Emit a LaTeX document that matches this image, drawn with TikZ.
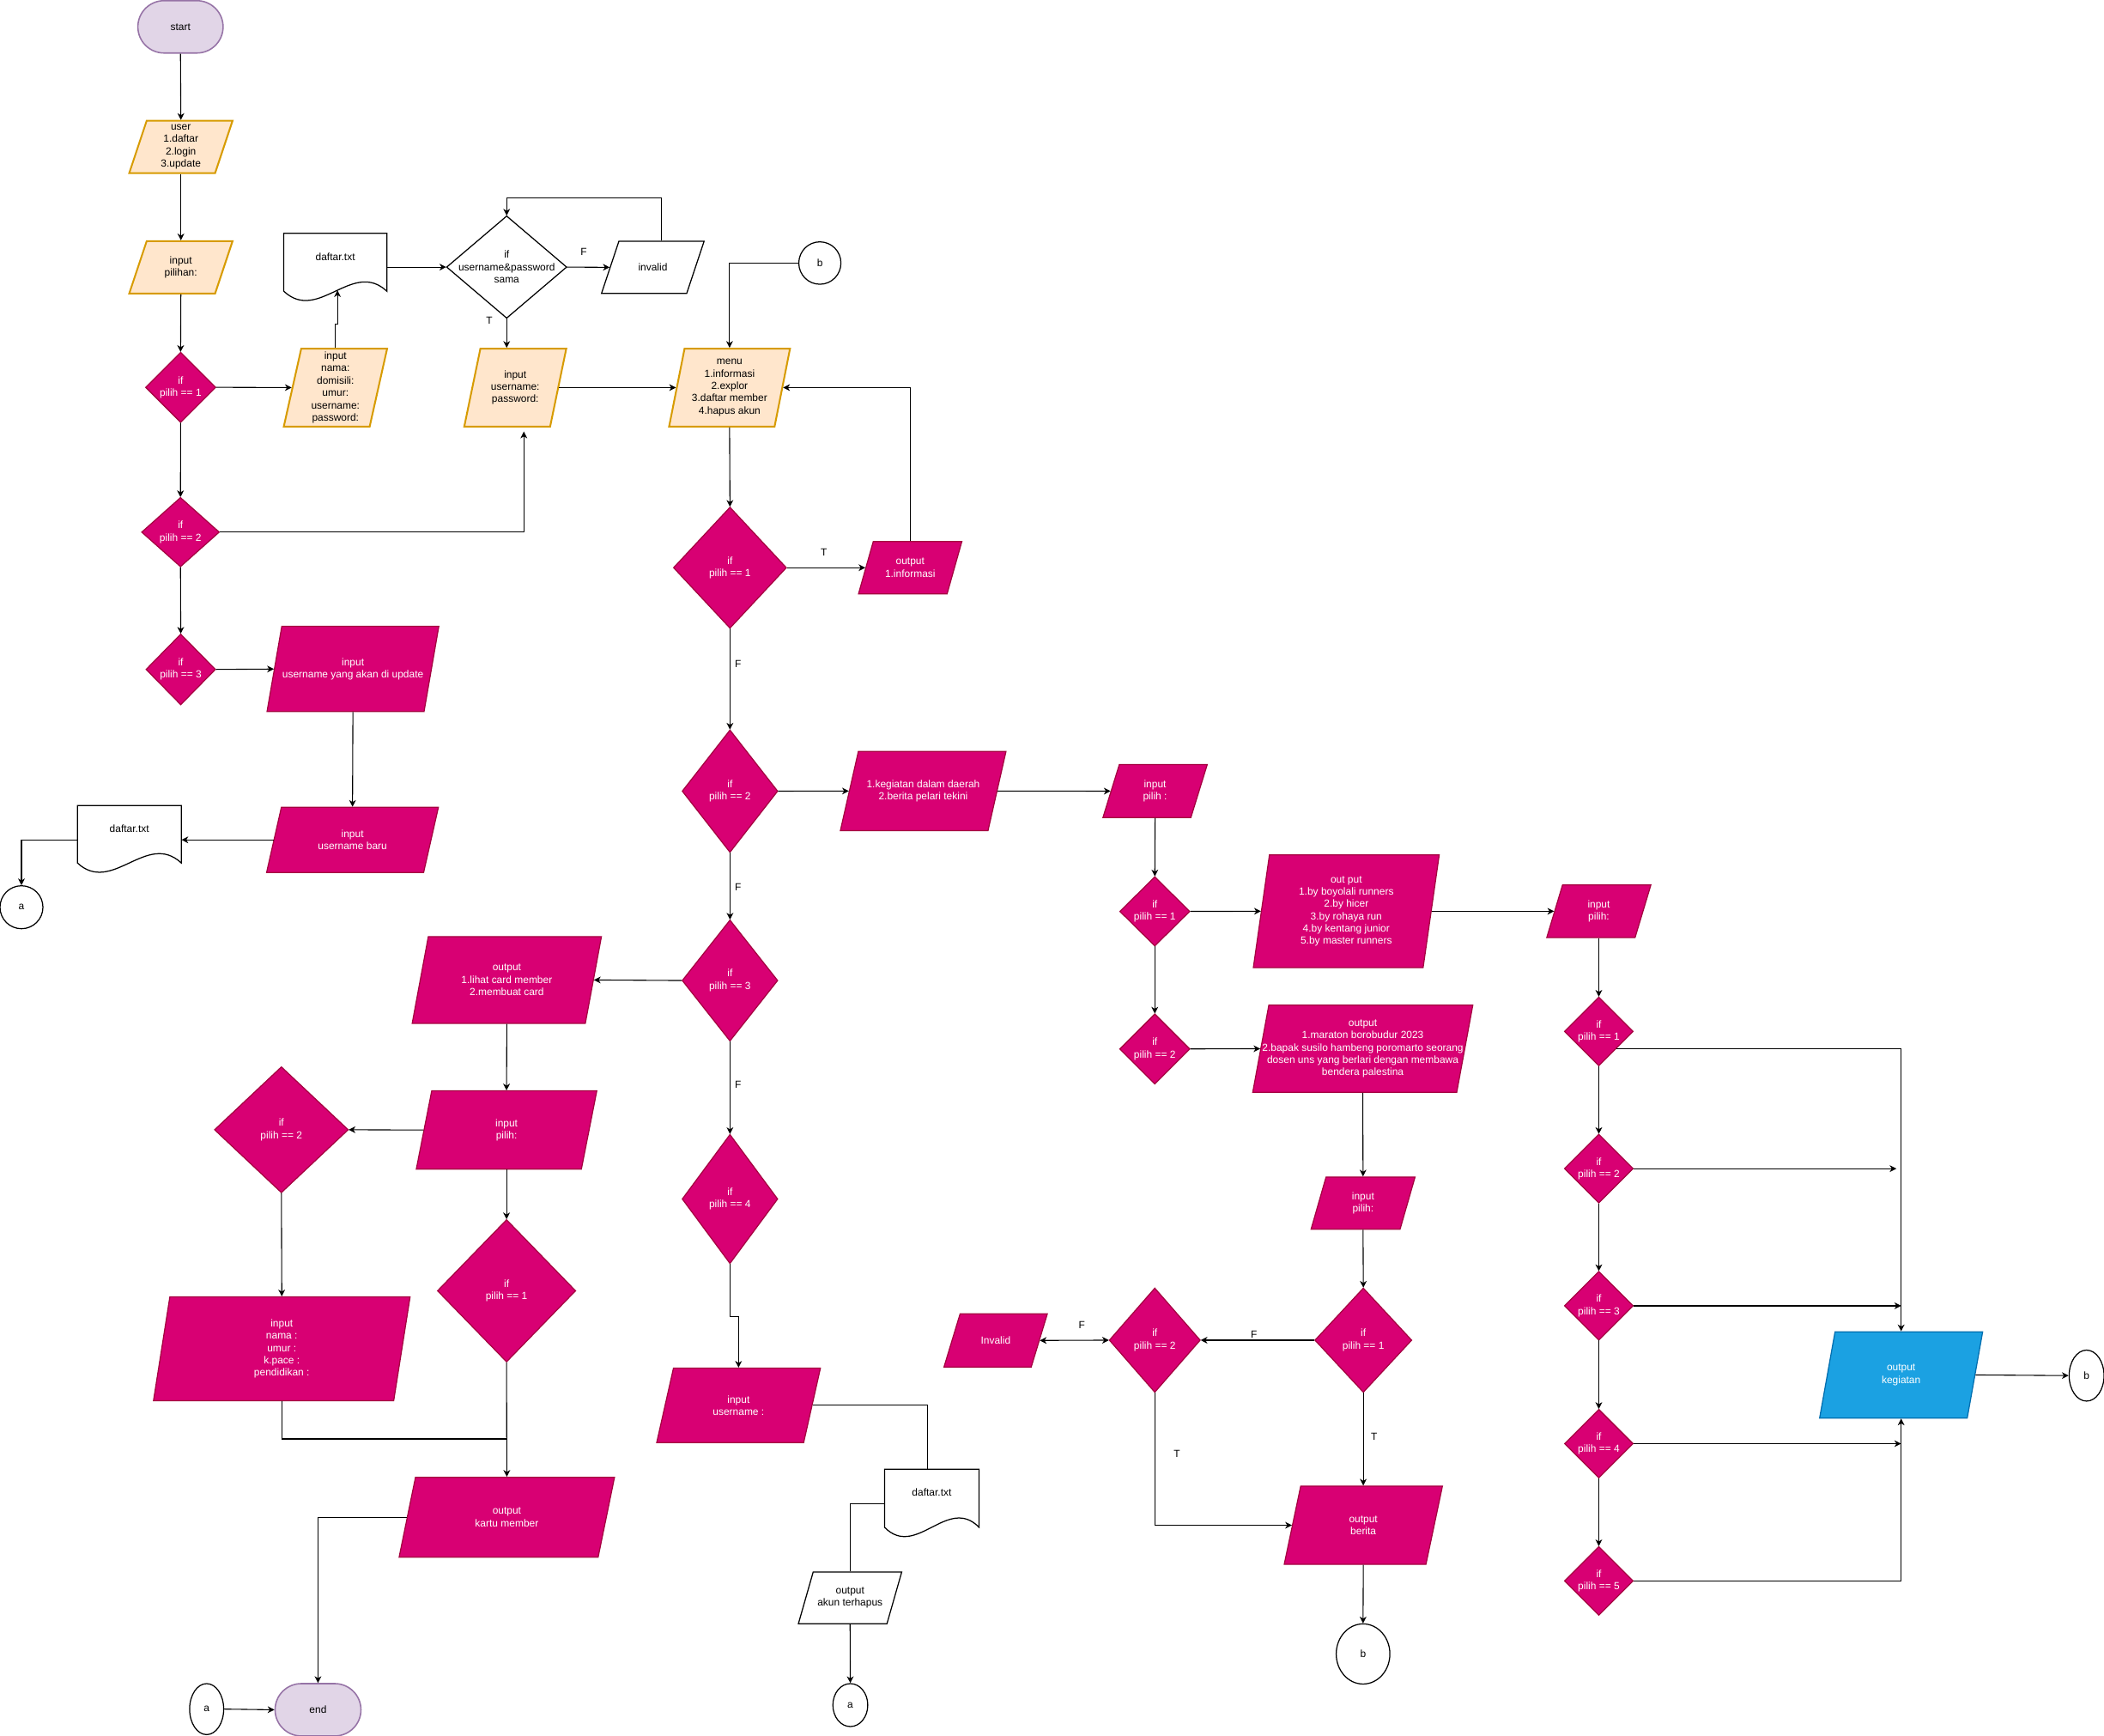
\documentclass[tikz,border=0pt]{standalone}
\usepackage{fontspec}
\setmainfont{Liberation Sans}
\usetikzlibrary{arrows.meta,calc,shapes.geometric}

\definecolor{orfill}{HTML}{FFE6CC}
\definecolor{orline}{HTML}{D79B00}
\definecolor{pufill}{HTML}{E1D5E7}
\definecolor{puline}{HTML}{9673A6}
\definecolor{mgfill}{HTML}{D80073}
\definecolor{mgline}{HTML}{A50040}
\definecolor{blfill}{HTML}{1BA1E2}
\definecolor{blline}{HTML}{006EAF}

\tikzset{
  lbl/.style={inner sep=0pt, align=center, font=\fontsize{7.66}{9.2}\selectfont, text=black},
  orng/.style={fill=orfill, draw=orline, line width=1.3pt},
  mg/.style={fill=mgfill, draw=mgline, line width=0.8pt, text=white},
  bl/.style={fill=blfill, draw=blline, line width=0.8pt, text=white},
  wh/.style={fill=white, draw=black, line width=0.8pt},
  term/.style={lbl, rectangle, rounded corners=19.5pt, fill=pufill, draw=puline,
               line width=1pt, minimum width=63.5, minimum height=39},
  conn/.style={wh, ellipse, lbl},
  cn/.style={draw=black, line width=0.7pt},
  arr/.style={cn, -{Stealth[length=5pt,width=5pt,inset=1.5pt]}},
  darr/.style={cn, {Stealth[length=5pt,width=5pt,inset=1.5pt]}-{Stealth[length=5pt,width=5pt,inset=1.5pt]}},
}

% parallelogram: style, name, cx, cy, mid width, height, slant, text
\newcommand\pgram[8]{%
  \path[#1] ({#3-#5/2+#7/2},{#4-#6/2}) -- ({#3+#5/2+#7/2},{#4-#6/2})
    -- ({#3+#5/2-#7/2},{#4+#6/2}) -- ({#3-#5/2-#7/2},{#4+#6/2}) -- cycle;
  \node[lbl, #1, draw=none, fill=none, minimum width=#5, minimum height=#6] (#2) at (#3,#4) {#8};
}
% decision: style, name, cx, cy, width, height, text
\newcommand\dmd[7]{%
  \path[#1] (#3,{#4-#6/2}) -- ({#3+#5/2},#4) -- (#3,{#4+#6/2}) -- ({#3-#5/2},#4) -- cycle;
  \node[lbl, #1, draw=none, fill=none, minimum width=#5, minimum height=#6] (#2) at (#3,#4) {#7};
}
% stored file: name, left, right, top, wave base
\newcommand\fdoc[5]{%
  \path[wh] (#2,#4) -- (#3,#4) -- (#3,#5)
    .. controls ({#3-(#3-#2)/3},{#5-24}) and ({#2+(#3-#2)/3},{#5+24}) .. (#2,#5) -- cycle;
  \node[lbl, minimum width={#3-#2}, minimum height={#5-#4}] (#1) at ({(#2+#3)/2},{(#4+#5)/2}) {};
  \node[lbl] (#1t) at ({(#2+#3)/2},{#4+17.5}) {daftar.txt};
}

\begin{document}
\begin{tikzpicture}[x=1pt, y=-1pt]
\fill[white] (0,0) rectangle (1568,1293.5);
\useasboundingbox (0,0) rectangle (1568,1293.5);

% ---------- registration / login ----------
\node[term] (start) at (134.5,20) {start};
\pgram{orng}{user}{134.8}{109.5}{64}{39}{13}{user\\1.daftar\\2.login\\3.update}
\pgram{orng}{pilihan}{134.8}{199.2}{64}{39}{13}{input\\pilihan:}
\dmd{mg}{d1}{134.6}{288.6}{52}{52}{if\\pilih == 1}
\dmd{mg}{d2}{134.5}{396.5}{57.7}{51.4}{if\\pilih == 2}
\dmd{mg}{d3}{134.7}{498.8}{51.6}{52.5}{if\\pilih == 3}
\pgram{orng}{nama}{250}{288.8}{64}{58}{13}{input\\nama:\\domisili:\\umur:\\username:\\password:}
\fdoc{ddoc}{211.5}{288.3}{173.8}{217}
\dmd{wh}{upd}{377.6}{199}{89.3}{76}{if\\username\&password\\sama}
\pgram{wh}{invalid}{486.5}{199.2}{63.5}{39}{13}{invalid}
\pgram{orng}{unp}{384}{288.8}{64}{58}{12}{input\\username:\\password:}
\pgram{orng}{menu}{543.7}{288.8}{78.6}{58}{11.5}{menu\\1.informasi\\2.explor\\3.daftar member\\4.hapus akun}
\node[conn, minimum width=31.4, minimum height=31.6] (b1) at (611,196) {b};
\pgram{mg}{upd3}{263}{498.5}{117}{63.5}{11}{input\\username yang akan di update}
\pgram{mg}{baru}{262.7}{625.8}{117}{48.5}{11}{input\\username baru}
\fdoc{ddoc2}{57.7}{135.1}{600.2}{643}
\node[conn, minimum width=32, minimum height=32] (a1) at (16,676) {a};

% ---------- main menu ----------
\dmd{mg}{m1}{544}{423}{84}{90}{if\\pilih == 1}
\pgram{mg}{info}{678.3}{423}{66}{39}{11}{output\\1.informasi}
\dmd{mg}{m2}{544}{589.5}{71}{91}{if\\pilih == 2}
\dmd{mg}{m3}{544}{730.6}{71}{90}{if\\pilih == 3}
\dmd{mg}{m4}{544}{893.4}{71}{96}{if\\pilih == 4}

% ---------- explore ----------
\pgram{mg}{keg}{688}{589.4}{110}{59}{13.4}{1.kegiatan dalam daerah\\2.berita pelari tekini}
\pgram{mg}{pil3}{860.8}{589.5}{65.5}{39.5}{12.2}{input\\pilih :}
\dmd{mg}{r1}{860.6}{679.1}{52}{51.4}{if\\pilih == 1}
\dmd{mg}{r2}{860.6}{781.6}{52}{52}{if\\pilih == 2}
\pgram{mg}{runs}{1003.3}{679}{126.5}{84}{12}{out put\\1.by boyolali runners\\2.by hicer\\3.by rohaya run\\4.by kentang junior\\5.by master runners}
\pgram{mg}{mar}{1015.6}{781.4}{152}{65}{12}{output\\1.maraton borobudur 2023\\2.bapak susilo hambeng poromarto seorang\\dosen uns yang berlari dengan membawa\\bendera palestina}
\pgram{mg}{pil5}{1015.8}{896.5}{66.3}{39}{11.2}{input\\pilih:}
\dmd{mg}{s1}{1016}{998.6}{72}{77.5}{if\\pilih == 1}
\dmd{mg}{s2}{860.6}{998.6}{67.6}{77.5}{if\\pilih == 2}
\pgram{mg}{inv2}{742}{998.8}{65}{39.6}{12}{Invalid}
\pgram{mg}{ber}{1016}{1136.5}{105.6}{58.3}{12.3}{output\\berita}
\node[conn, minimum width=40, minimum height=44.8] (b2) at (1015.8,1232.4) {b};

\pgram{mg}{pil4}{1191.5}{679}{65.8}{39.3}{11.8}{input\\pilih:}
\dmd{mg}{c1}{1191.5}{768.5}{51}{51}{if\\pilih == 1}
\dmd{mg}{c2}{1191.5}{870.8}{51}{51}{if\\pilih == 2}
\dmd{mg}{c3}{1191.5}{973}{51}{51}{if\\pilih == 3}
\dmd{mg}{c4}{1191.5}{1075.7}{51}{51}{if\\pilih == 4}
\dmd{mg}{c5}{1191.5}{1178}{51}{51}{if\\pilih == 5}
\pgram{bl}{kout}{1416.8}{1024.5}{110}{64.3}{11.5}{output\\kegiatan}
\node[conn, minimum width=26, minimum height=38] (b3) at (1555,1025) {b};

% ---------- member card ----------
\pgram{mg}{card}{377.7}{730.2}{129}{64.6}{12}{output\\1.lihat card member\\2.membuat card}
\pgram{mg}{lpil}{377.5}{842}{123}{58.3}{11.5}{input\\pilih:}
\dmd{mg}{ld2}{209.7}{841.8}{99.5}{93.6}{if\\pilih == 2}
\dmd{mg}{ld1}{377.5}{961.8}{102.8}{105.8}{if\\pilih == 1}
\pgram{mg}{nmu}{210}{1005}{179}{77.3}{12.2}{input\\nama :\\umur :\\k.pace :\\pendidikan :}
\pgram{mg}{kartu}{377.7}{1130.5}{148.3}{59.5}{12.2}{output\\kartu member}
\node[term, minimum width=64] (end) at (237,1274) {end};
\node[conn, minimum width=25.4, minimum height=38] (a3) at (154,1273.5) {a};

% ---------- delete account ----------
\pgram{mg}{uname}{550.4}{1047.2}{109.5}{55.5}{12.5}{input\\username :}
\fdoc{ddoc3}{659.2}{729.6}{1094.8}{1138}
\pgram{wh}{akun}{633.5}{1190.6}{66}{38.5}{11}{output\\akun terhapus}
\node[conn, minimum width=26, minimum height=32] (a2) at (633.7,1270.5) {a};

% ---------- connectors ----------
\draw[arr] (start.south) -- (user.north);
\draw[arr] (user.south) -- (pilihan.north);
\draw[arr] (pilihan.south) -- (d1.north);
\draw[arr] (d1.east) -- (nama.west);
\draw[arr] (d1.south) -- (d2.north);
\draw[arr] (d2.south) -- (d3.north);
\draw[arr] (d3.east) -- (upd3.west);
\coordinate (lgin) at (390.4,321.6);
\draw[arr] (d2.east) -| (lgin);
\coordinate (dwave) at (251.5,216.3);
\draw[arr] (nama.north) -- ++(0,-17.5) -| (dwave);
\draw[arr] (ddoc.east |- upd.west) -- (upd.west);
\draw[arr] (upd.east) -- (invalid.west);
\node[lbl] (lF1) at (435,187.7) {F};
\draw[arr] ([xshift=6.3pt]invalid.north) -- ++(0,-31.9) -| (upd.north);
\draw[arr] (upd.south) -- (upd.south |- unp.north);
\node[lbl] (lT1) at (364.6,238.9) {T};
\draw[arr] (unp.east) -- (menu.west);
\draw[arr] (b1.west) -| (menu.north);
\draw[arr] (menu.south) -- (m1.north);
\draw[arr] (m1.east) -- (info.west);
\node[lbl] (lT2) at (614,411.6) {T};
\draw[arr] (info.north) |- (menu.east);
\draw[arr] (m1.south) -- (m2.north);
\node[lbl] (lF2) at (550,494.5) {F};
\draw[arr] (m2.south) -- (m3.north);
\node[lbl] (lF3) at (550,661) {F};
\draw[arr] (m3.south) -- (m4.north);
\node[lbl] (lF4) at (550,808.5) {F};
\draw[arr] (upd3.south) -- (baru.north);
\draw[arr] (baru.west) -- (ddoc2.east |- baru.west);
\draw[arr] (ddoc2.west |- baru.west) -| (a1.north);

\draw[arr] (m2.east) -- (keg.west);
\draw[arr] (keg.east) -- (pil3.west);
\draw[arr] (pil3.south) -- (r1.north);
\draw[arr] (r1.east) -- (runs.west);
\draw[arr] (r1.south) -- (r2.north);
\draw[arr] (r2.east) -- (mar.west);
\draw[arr] (runs.east) -- (pil4.west);
\draw[arr] (mar.south) -- (pil5.north);
\draw[arr] (pil5.south) -- (s1.north);
\draw[arr] (s1.west) -- (s2.east);
\node[lbl] (lF5) at (934.5,994.1) {F};
\draw[darr] (s2.west) -- (inv2.east);
\node[lbl] (lF6) at (806.3,987.6) {F};
\draw[arr] (s1.south) -- (ber.north);
\node[lbl] (lT3) at (1024,1070.4) {T};
\draw[arr] (s2.south) |- (ber.west);
\node[lbl] (lT4) at (877.1,1083.5) {T};
\draw[arr] (ber.south) -- (b2.north);

\draw[arr] (pil4.south) -- (c1.north);
\draw[arr] (c1.south) -- (c2.north);
\draw[arr] (c2.south) -- (c3.north);
\draw[arr] (c3.south) -- (c4.north);
\draw[arr] (c4.south) -- (c5.north);
\draw[arr] ($(c1.east)!.5!(c1.south)$) -| (kout.north);
\coordinate (k2) at (1413.3,870.8);
\draw[arr] (c2.east) -- (k2);
\draw[arr] (c3.east) -- (c3.east -| kout.north);
\draw[arr] (c4.east) -- (c4.east -| kout.north);
\draw[arr] (c5.east) -| (kout.south);
\draw[arr] (kout.east) -- (b3.west);

\draw[arr] (m3.west) -- (card.east);
\draw[arr] (card.south) -- (lpil.north);
\draw[arr] (lpil.west) -- (ld2.east);
\draw[arr] (lpil.south) -- (ld1.north);
\draw[arr] (ld2.south) -- (nmu.north);
\coordinate (kjoin) at (377.5,1072.2);
\draw[cn] (nmu.south) |- (kjoin);
\draw[arr] (ld1.south) -- (kartu.north);
\draw[arr] (kartu.west) -| (end.north);
\draw[arr] (a3.east) -- (end.west);

\draw[arr] (m4.south) -- ++(0,39) -| (uname.north);
\draw[cn] (uname.east) -| ([xshift=-3.3pt]ddoc3.north);
\coordinate (dj) at (0,1120.6);
\draw[cn] (ddoc3.west |- dj) -| (akun.north);
\draw[arr] (akun.south) -- (a2.north);
\end{tikzpicture}
\end{document}
